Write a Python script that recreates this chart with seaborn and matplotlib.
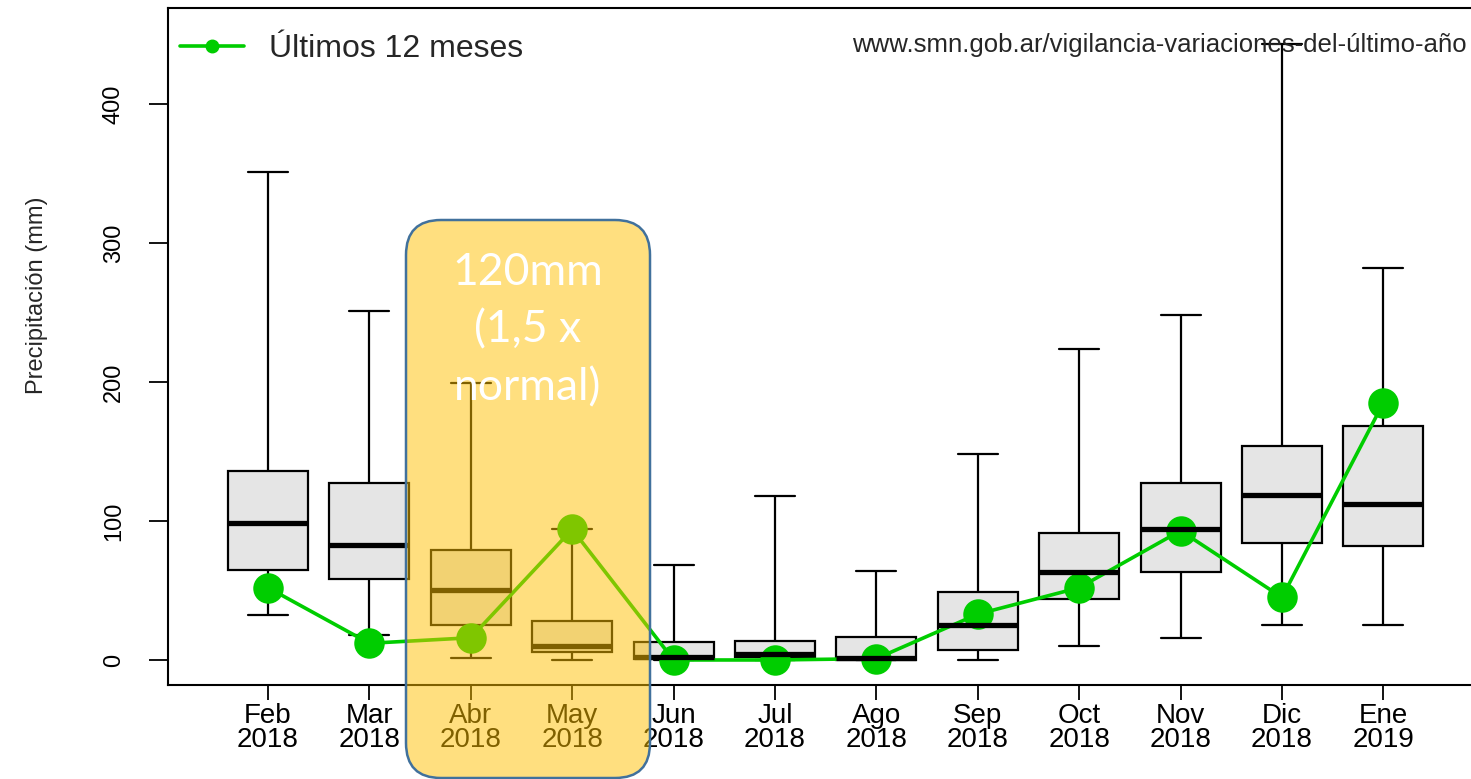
import matplotlib
matplotlib.use("Agg")
import matplotlib.pyplot as plt
import numpy as np
import pandas as pd
import seaborn as sns
from matplotlib.lines import Line2D
from matplotlib.patches import FancyBboxPatch
from matplotlib.transforms import IdentityTransform

# data (mm)
meses = ["Feb", "Mar", "Abr", "May", "Jun", "Jul", "Ago", "Sep", "Oct", "Nov", "Dic", "Ene"]
anios = ["2018"] * 11 + ["2019"]
minimo = [32, 18, 1.5, 0, 0, 0, 0, 0, 10, 16, 25, 25]
q1 = [65, 58, 25, 6, 1, 2, 0.3, 7, 44, 63, 84, 82]
mediana = [98.5, 83, 50, 10, 2.5, 4.5, 1.5, 25, 63, 94, 119, 112]
q3 = [136, 127, 79, 28, 13, 14, 16.5, 49, 91, 127, 154, 168]
maximo = [351, 251, 199, 94, 68, 118, 64, 148, 224, 248, 443, 282]
ultimos = [52, 12, 16, 94, 0, 0, 1, 33, 52, 93, 45, 185]

# five-number summary per month as long table (quartiles of 5 values = the summary)
df = pd.DataFrame({
    "mes": np.repeat(meses, 5),
    "valor": np.column_stack([minimo, q1, mediana, q3, maximo]).ravel(),
})

sns.set_theme(style="ticks")
plt.rcParams["font.family"] = ["Liberation Sans", "DejaVu Sans"]

fig = plt.figure(figsize=(14.71, 7.79), dpi=100)
W, H = 1471, 779
step = 101.4
x0 = -0.986
x1 = 12.5
ax = fig.add_axes([168 / W, 1 - 685 / H, (x1 - x0) * step / W, (685 - 8) / H])

sns.boxplot(data=df, x="mes", y="valor", order=meses, whis=(0, 100), width=0.79,
            color="#E5E5E5", linecolor="black", saturation=1, linewidth=1.6,
            medianprops=dict(linewidth=3.8, color="black"), ax=ax)

sns.pointplot(x=meses, y=ultimos, order=meses, color="#00CD00", markers="o",
              errorbar=None, markersize=20, linewidth=2.6, ax=ax)

ax.set_xlim(x0, x1)
ax.set_ylim(-18, 469)
ax.set_xticks(range(len(meses)))
ax.set_xticklabels([f"{m}\n{a}" for m, a in zip(meses, anios)], fontsize=20, linespacing=0.92)
ax.set_yticks([0, 100, 200, 300, 400])
ax.set_yticklabels(["0", "100", "200", "300", "400"], rotation=90, va="center", fontsize=17)
ax.tick_params(axis="x", length=11, width=1.3, pad=2, colors="black")
ax.tick_params(axis="y", length=14, width=1.3, pad=17, colors="black")
ax.set_xlabel("")
ax.set_ylabel("Precipitación (mm)", fontsize=17)
ax.yaxis.set_label_coords(-0.088, 0.576)
for s in ax.spines.values():
    s.set_linewidth(1.5)
    s.set_color("black")

handle = Line2D([], [], color="#00CD00", linewidth=2.6, marker="o", markersize=9)
ax.legend([handle], ["Últimos 12 meses"], loc="upper left", bbox_to_anchor=(0.0088, 0.962),
          frameon=False, fontsize=23, handlelength=2.0, handletextpad=0.8,
          borderpad=0, borderaxespad=0)

fig.text(852 / W, 1 - 45 / H, "www.smn.gob.ar/vigilancia-variaciones-del-último-año",
         fontsize=18.5, ha="left", va="center")

# highlight box overlay
caja = FancyBboxPatch((406, 1), 244, 558, boxstyle="round,pad=0,rounding_size=35",
                      facecolor=(1.0, 0.753, 0.0, 0.5), edgecolor="#41719C", linewidth=1.8,
                      transform=IdentityTransform(), zorder=10)
fig.add_artist(caja)
fig.text(528 / W, 1 - 330 / H, "120mm\n(1,5 x\nnormal)", color="white", fontsize=32,
         family=["Lato", "DejaVu Sans"], ha="center", va="center", linespacing=1.5, zorder=11)

fig.savefig("out.png", dpi=100)
